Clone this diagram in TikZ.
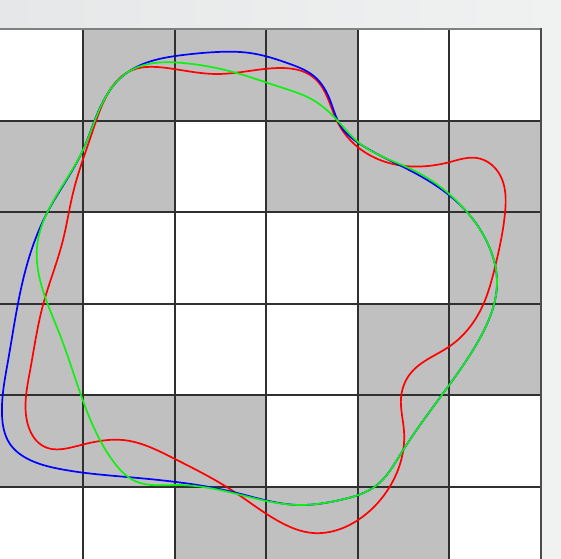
\documentclass[tikz,border=0pt]{standalone}
\usetikzlibrary{hobby}
\definecolor{bgA}{HTML}{E6E7E8}
\definecolor{bgB}{HTML}{F0F1F1}
\definecolor{cellgray}{HTML}{C0C0C0}
\definecolor{gridline}{HTML}{303030}
\definecolor{cgreen}{HTML}{10F010}
\begin{document}
\begin{tikzpicture}[x=1pt,y=-1pt,
  gridln/.style={draw=gridline,line width=2pt},
  curve/.style={line width=1.7pt,line join=round}]
\useasboundingbox (0,0) rectangle (561,558);
\begin{scope}
\clip (0,0) rectangle (561,558);
\shade[left color=bgA,right color=bgB] (0,0) rectangle (561,558);
% cells
\def\cs{91.6}
\fill[white] (-8.6,29) rectangle (541,580);
\foreach \r/\c in {0/1,0/2,0/3,
                   1/0,1/1,1/3,1/4,1/5,
                   2/0,2/5,
                   3/0,3/4,3/5,
                   4/0,4/1,4/2,4/4,
                   5/2,5/3,5/4}{
  \fill[cellgray] ({-8.6+\c*\cs},{29+\r*\cs}) rectangle ++(\cs,\cs);
}
% grid lines
\foreach \i in {1,...,5}{
  \draw[gridln] ({-8.6+\i*\cs},29) -- ({-8.6+\i*\cs},580);
  \draw[gridln] (-10,{29+\i*\cs}) -- (541,{29+\i*\cs});
}
\draw[draw=black!50,line width=1.5pt] (-10,29) -- (541,29);
\draw[draw=black!70,line width=1.5pt] (541,28.3) -- (541,580);
% curves
\draw[curve,red] plot[closed hobby] coordinates {
 (128,72) (167,68) (217,74) (280,68) (313,77) (338,123) (380,160) (450,162)
 (477,158) (500,175) (505,213) (495,267) (483,305) (450,346) (410,374) (401,398)
 (404,431) (387,491) (358,520) (313,533) (280,522) (233,491) (173,458) (123,440)
 (77,446) (45,447) (28,425) (30,371) (43,305) (63,240) (73,193) (92,133) (110,90)};
\draw[curve,blue] plot[closed hobby] coordinates {
 (128,72) (183,55) (217,52) (250,53) (290,64) (315,77) (330,100) (342,128) (360,144)
 (413,172) (467,212) (487,242) (497,280) (480,338) (447,388) (400,455) (377,485)
 (340,500) (300,505) (233,492) (127,477) (60,469) (30,460) (10,444) (2,415) (8,361) (23,280)
 (47,213) (83,150) (110,90)};
\draw[curve,cgreen] plot[closed hobby] coordinates {
 (128,72) (183,63) (233,72) (280,87) (313,100) (337,120) (358,142) (413,170)
 (467,212) (487,242) (497,280) (480,338) (447,388) (400,455) (377,485) (340,500)
 (300,505) (233,493) (177,485) (135,481) (113,461) (82,398) (60,335) (40,280)
 (37,247) (47,213) (83,150) (110,90)};
\end{scope}
\end{tikzpicture}
\end{document}
